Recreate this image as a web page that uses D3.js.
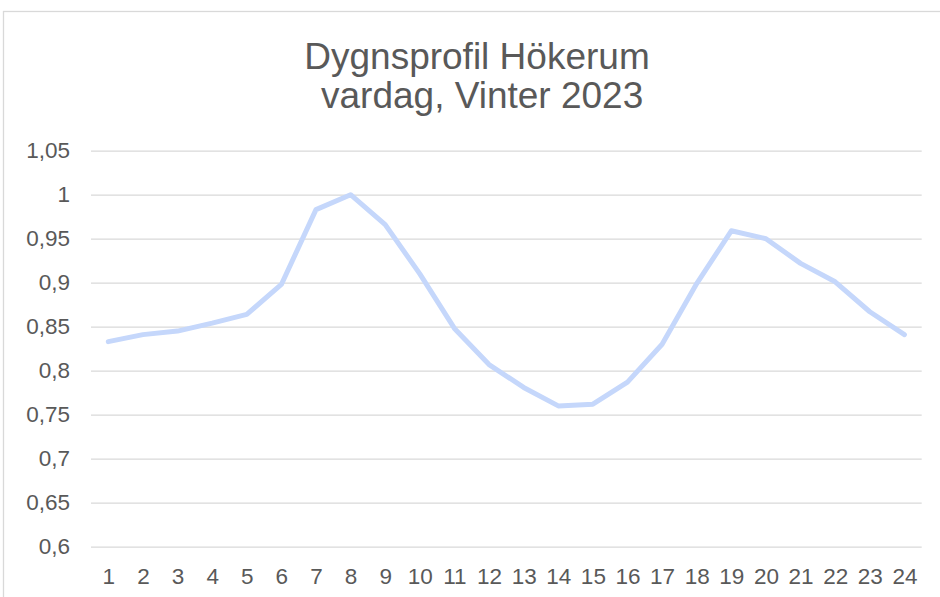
<!DOCTYPE html>
<html>
<head>
<meta charset="utf-8">
<script src="https://cdn.jsdelivr.net/npm/d3@7"></script>
<style>
  html, body { margin: 0; padding: 0; background: #ffffff; }
  svg { display: block; }
  text { font-family: "Liberation Sans", Arial, sans-serif; }
</style>
</head>
<body>
<svg id="chart" width="940" height="597"></svg>
<script>
// ---- data ----
const hours = ["1","2","3","4","5","6","7","8","9","10","11","12","13","14","15","16","17","18","19","20","21","22","23","24"];
const profile = [0.833, 0.841, 0.845, 0.854, 0.864, 0.898, 0.983, 1.000, 0.966, 0.910, 0.848, 0.807,
                 0.781, 0.760, 0.762, 0.787, 0.830, 0.899, 0.959, 0.950, 0.922, 0.901, 0.867, 0.841];
const yTicks = [0.6, 0.65, 0.7, 0.75, 0.8, 0.85, 0.9, 0.95, 1.0, 1.05];
const titleLines = ["Dygnsprofil Hökerum", " vardag, Vinter 2023"];

// ---- layout ----
const W = 940, H = 597;
const plot = { left: 91, right: 921.7, top: 150.7, bottom: 546.7 };
const svg = d3.select("#chart");

// outer chart border
svg.append("rect")
  .attr("x", 3.5).attr("y", 11.5)
  .attr("width", 960).attr("height", 620)
  .attr("fill", "#ffffff")
  .attr("stroke", "#d9d9d9").attr("stroke-width", 1.3);

// title
const title = svg.append("text")
  .attr("text-anchor", "middle")
  .attr("fill", "#595959")
  .style("font-size", "37px");
titleLines.forEach((t, i) => {
  title.append("tspan")
    .attr("x", 477)
    .attr("y", 69 + i * 39)
    .style("white-space", "pre")
    .text(t);
});

// scales
const x = d3.scalePoint().domain(hours).range([plot.left, plot.right]).padding(0.5);
const y = d3.scaleLinear().domain([0.6, 1.05]).range([plot.bottom, plot.top]);

const fmt = v => String(+v.toFixed(2)).replace(".", ",");

// y axis with gridlines
const yAxis = svg.append("g")
  .attr("transform", `translate(${plot.left},0)`)
  .call(d3.axisLeft(y).tickValues(yTicks).tickFormat(fmt)
        .tickSizeInner(-(plot.right - plot.left)).tickSizeOuter(0).tickPadding(21));
yAxis.select(".domain").remove();
yAxis.selectAll(".tick line").attr("stroke", "#d9d9d9").attr("stroke-width", 1.3);
yAxis.selectAll(".tick text").attr("fill", "#595959").style("font-size", "22.5px");

// x axis
const xAxis = svg.append("g")
  .attr("transform", `translate(0,${plot.bottom})`)
  .call(d3.axisBottom(x).tickSize(0).tickPadding(21));
xAxis.select(".domain").remove();
xAxis.selectAll(".tick text").attr("fill", "#595959").style("font-size", "22.5px");

// line
const line = d3.line()
  .x((d, i) => x(hours[i]))
  .y(d => y(d));
svg.append("path")
  .datum(profile)
  .attr("fill", "none")
  .attr("stroke", "#c5d7fb")
  .attr("stroke-width", 5)
  .attr("stroke-linejoin", "round")
  .attr("stroke-linecap", "round")
  .attr("d", line);
</script>
</body>
</html>
